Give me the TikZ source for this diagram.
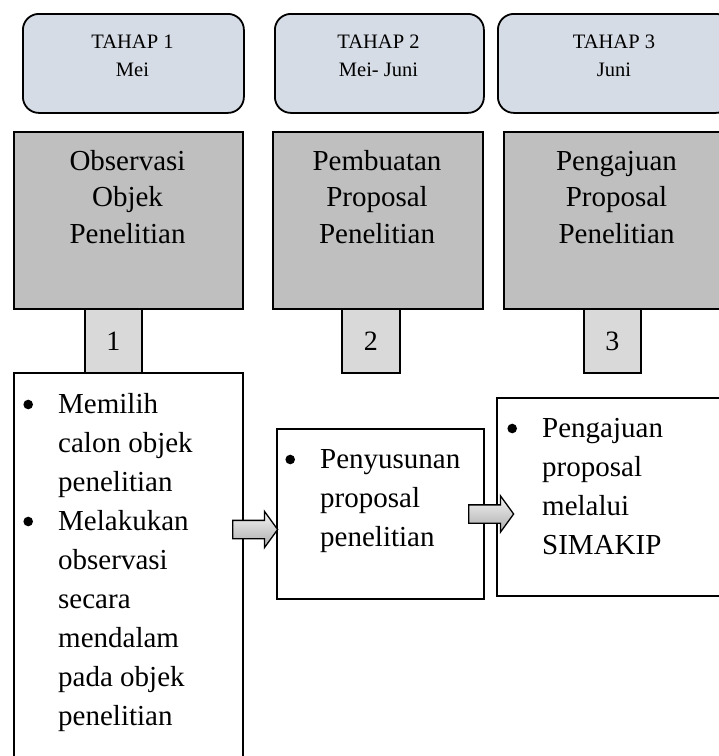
\documentclass[tikz,border=0pt]{standalone}
\usepackage{fontspec}
\setmainfont{Liberation Serif}
\usetikzlibrary{positioning}
\usetikzlibrary{shapes.arrows}

\definecolor{birumuda}{RGB}{214,220,229}
\definecolor{abutua}{RGB}{191,191,191}
\definecolor{abumuda}{RGB}{217,217,217}

\newcommand{\titik}{\tikz[baseline=-8.5pt]\fill[black] (0,0) circle (4.8pt);}
\newcommand{\poin}{\par\noindent\llap{\makebox[60pt][c]{\titik}}}

\begin{document}
\begin{tikzpicture}[x=1pt, y=-1pt, line width=1.8pt,
    kotak/.style={draw, inner sep=0pt, anchor=north west},
    judul/.style={anchor=base, inner sep=0pt, font=\fontsize{20.5}{28}\selectfont},
    kegiatan/.style={anchor=base, inner sep=0pt, font=\fontsize{29}{36.5}\selectfont},
    isi/.style={anchor=base west, inner sep=0pt, font=\fontsize{29}{39}\selectfont},
    panah/.style={single arrow, draw, line width=1.3pt, inner sep=0pt,
      text height=17pt, text depth=0pt, minimum height=45pt, minimum width=35pt,
      single arrow head extend=9pt, single arrow tip angle=108,
      top color=gray!8, bottom color=gray!65, anchor=tail}]
      \useasboundingbox (0,0) rectangle (719,756);
      \clip (0,0) rectangle (719,756);

      % tahap
      \node[kotak, fill=birumuda, rounded corners=16pt, minimum width=221pt, minimum height=99pt] (tahap1) at (22,13) {};
      \node[kotak, fill=birumuda, rounded corners=16pt, minimum width=209pt, minimum height=99pt] (tahap2) at (274,13) {};
      \node[kotak, fill=birumuda, rounded corners=16pt, minimum width=234pt, minimum height=99pt] (tahap3) at (497,13) {};
      \node[judul] (judul1) at (132.5,48) {\parbox[t]{200pt}{\centering TAHAP 1\\ Mei}};
      \node[judul] (judul2) at (378.5,48) {\parbox[t]{200pt}{\centering TAHAP 2\\ Mei- Juni}};
      \node[judul] (judul3) at (614,48) {\parbox[t]{200pt}{\centering TAHAP 3\\ Juni}};

      % kegiatan
      \node[kotak, fill=abutua, minimum width=229pt, minimum height=177pt] (kegiatan1) at (13,131) {};
      \node[kotak, fill=abutua, minimum width=210pt, minimum height=177pt] (kegiatan2) at (272,131) {};
      \node[kotak, fill=abutua, minimum width=227pt, minimum height=177pt] (kegiatan3) at (503,131) {};
      \node[kegiatan] (nama1) at (127.5,170) {\parbox[t]{220pt}{\centering Observasi\\ Objek\\ Penelitian}};
      \node[kegiatan] (nama2) at (377,170) {\parbox[t]{200pt}{\centering Pembuatan\\ Proposal\\ Penelitian}};
      \node[kegiatan] (nama3) at (616.5,170) {\parbox[t]{220pt}{\centering Pengajuan\\ Proposal\\ Penelitian}};

      % nomor
      \node[kotak, fill=abumuda, minimum width=57pt, minimum height=64pt, font=\fontsize{28}{34}\selectfont] (nomor1) at (84,308) {1};
      \node[kotak, fill=abumuda, minimum width=58pt, minimum height=64pt, font=\fontsize{28}{34}\selectfont] (nomor2) at (341,308) {2};
      \node[kotak, fill=abumuda, minimum width=57pt, minimum height=64pt, font=\fontsize{28}{34}\selectfont] (nomor3) at (583,308) {3};

      % rincian
      \node[kotak, fill=white, minimum width=229pt, minimum height=400pt] (rincian1) at (13,372) {};
      \node[kotak, fill=white, minimum width=207pt, minimum height=170pt] (rincian2) at (276,428) {};
      \node[kotak, fill=white, minimum width=240pt, minimum height=198pt] (rincian3) at (496,397) {};
      \node[isi] (isi1) at (58,413) {\parbox[t]{180pt}{\raggedright
        \poin Memilih\\ calon objek\\ penelitian
        \poin Melakukan\\ observasi\\ secara\\ mendalam\\ pada objek\\ penelitian}};
      \node[isi] (isi2) at (320,468) {\parbox[t]{160pt}{\raggedright
        \poin Penyusunan\\ proposal\\ penelitian}};
      \node[isi] (isi3) at (542,437) {\parbox[t]{170pt}{\raggedright
        \poin Pengajuan\\ proposal\\ melalui\\ SIMAKIP}};

      % panah
      \node[panah] (panah1) at (232,529.5) {};
      \node[panah] (panah2) at (468,514) {};
    \end{tikzpicture}
\end{document}
